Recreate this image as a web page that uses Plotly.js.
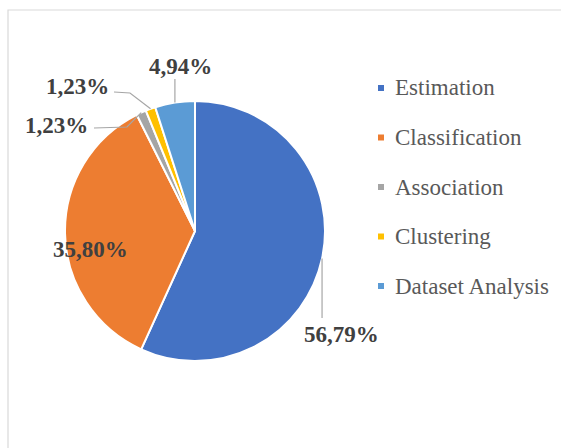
<!DOCTYPE html>
<html><head><meta charset="utf-8">
<script src="https://cdn.plot.ly/plotly-3.0.1.min.js"></script>
<style>html,body{margin:0;padding:0;background:#fff;overflow:hidden}#chart{width:561px;height:448px}</style>
</head><body><div id="chart"></div>
<script>
// ---- data ----
const categories = ['Estimation', 'Classification', 'Association', 'Clustering', 'Dataset Analysis'];
const shares = [56.79, 35.80, 1.23, 1.23, 4.94];
const colors = ['#4472C4', '#ED7D31', '#A5A5A5', '#FFC000', '#5B9BD5'];
const percentLabels = shares.map(v => v.toFixed(2).replace('.', ',') + '%');

// ---- layout constants (pixels) ----
const W = 561, H = 448;
const CX = 195, CY = 231, R = 130;          // pie centre / radius
const FONT = '"Liberation Serif", "DejaVu Serif", serif';
// label text centres
const labelPos = [[341, 334], [90, 249], [56, 125], [77, 86], [180, 66]];
// leader line routes (after the slice edge point); null = no leader
const leaderRoute = [
  function(e){ return [[e[0], 318]]; },
  null,
  function(e){ return [[127, 127], [94, 128]]; },
  function(e){ return [[130, 93], [114, 92]]; },
  function(e){ return [[e[0], 79]]; }
];
const legendTop = 88, legendStep = 49.5, legendMarkX = 378, legendTextX = 393;

const px = x => x / W, py = y => 1 - y / H;

const total = shares.reduce((a, b) => a + b, 0);
let cum = 0;
const edgePts = shares.map(v => {
  const th = 2 * Math.PI * (cum + v / 2) / total; cum += v;
  return [CX + R * Math.sin(th), CY - R * Math.cos(th)];
});

const annotations = [];
const shapes = [];

// frame
shapes.push({type: 'rect', xref: 'paper', yref: 'paper', x0: px(8), x1: 1.05, y0: py(10), y1: -0.05,
  line: {color: '#d9d9d9', width: 1.2}, fillcolor: 'rgba(0,0,0,0)', layer: 'below'});

percentLabels.forEach((t, i) => {
  annotations.push({xref: 'paper', yref: 'paper', x: px(labelPos[i][0]), y: py(labelPos[i][1]),
    xanchor: 'center', yanchor: 'middle', showarrow: false, text: '<b>' + t + '</b>',
    font: {family: FONT, size: 23, color: '#404040'}});
  if (leaderRoute[i]) {
    const pts = [edgePts[i]].concat(leaderRoute[i](edgePts[i]));
    const path = pts.map((p, k) => (k ? 'L' : 'M') + px(p[0]) + ',' + py(p[1])).join(' ');
    shapes.push({type: 'path', xref: 'paper', yref: 'paper', path: path,
      line: {color: '#a6a6a6', width: 1.2}});
  }
});

// legend
categories.forEach((c, i) => {
  const y = legendTop + i * legendStep;
  shapes.push({type: 'rect', xref: 'paper', yref: 'paper', x0: px(legendMarkX), x1: px(legendMarkX + 6),
    y0: py(y - 3), y1: py(y + 3), fillcolor: colors[i], line: {width: 0}});
  annotations.push({xref: 'paper', yref: 'paper', x: px(legendTextX), y: py(y),
    xanchor: 'left', yanchor: 'middle', showarrow: false, text: c,
    font: {family: FONT, size: 23, color: '#595959'}});
});

const trace = {
  type: 'pie', values: shares, labels: categories, sort: false, direction: 'clockwise', rotation: 0,
  textinfo: 'none', hoverinfo: 'label+percent',
  marker: {colors: colors, line: {color: '#ffffff', width: 2}},
  domain: {x: [px(CX - R), px(CX + R)], y: [py(CY + R), py(CY - R)]}
};

Plotly.newPlot('chart', [trace], {
  width: W, height: H, margin: {l: 0, r: 0, t: 0, b: 0},
  paper_bgcolor: '#ffffff', showlegend: false, font: {family: FONT},
  annotations: annotations, shapes: shapes
}, {displayModeBar: false, staticPlot: true});
</script></body></html>
